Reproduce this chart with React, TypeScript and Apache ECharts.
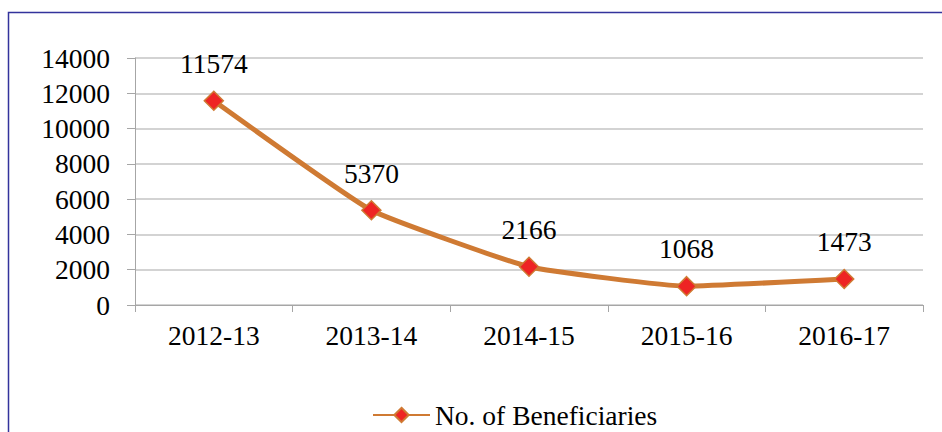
import React, { useEffect, useRef } from "react";
import * as echarts from "echarts";

const categories = ["2012-13", "2013-14", "2014-15", "2015-16", "2016-17"];
const beneficiaries = [11574, 5370, 2166, 1068, 1473];
const seriesName = "No. of Beneficiaries";
const yMin = 0;
const yMax = 14000;
const yInterval = 2000;

const FONT = "Liberation Serif";
const FS = 27.5;

export default function App() {
  const ref = useRef<HTMLDivElement>(null);
  useEffect(() => {
    if (!ref.current) return;
    const chart = echarts.init(ref.current, undefined, { renderer: "svg" });
    chart.setOption({
      animation: false,
      backgroundColor: "#ffffff",
      textStyle: { fontFamily: FONT },
      graphic: [
        {
          type: "rect",
          shape: { x: 8.5, y: 12.5, width: 960, height: 460 },
          style: { fill: "none", stroke: "#33339c", lineWidth: 1.5 },
          silent: true,
        },
      ],
      grid: { left: 135, right: 19, top: 58, bottom: 127, containLabel: false },
      legend: {
        left: 367,
        top: 396,
        itemWidth: 57,
        itemHeight: 18,
        itemGap: 6,
        textStyle: { fontFamily: FONT, fontSize: FS, color: "#000" },
        data: [{ name: seriesName }],
      },
      xAxis: {
        type: "category",
        data: categories,
        boundaryGap: true,
        axisLine: { lineStyle: { color: "#a6a6a6", width: 1 } },
        axisTick: { show: true, length: 7, alignWithLabel: false, lineStyle: { color: "#a6a6a6" } },
        axisLabel: { fontFamily: FONT, fontSize: FS, color: "#000", margin: 16 },
        splitLine: { show: false },
      },
      yAxis: {
        type: "value",
        min: yMin,
        max: yMax,
        interval: yInterval,
        axisLine: { show: true, lineStyle: { color: "#a6a6a6", width: 1 } },
        axisTick: { show: true, length: 8, lineStyle: { color: "#a6a6a6" } },
        axisLabel: {
          fontFamily: FONT,
          fontSize: FS,
          color: "#000",
          margin: 25,
          formatter: (v: number) => String(v),
        },
        splitLine: { show: true, lineStyle: { color: "#c4c4c4", width: 1.5 } },
      },
      series: [
        {
          name: seriesName,
          type: "line",
          data: beneficiaries,
          smooth: 0.12,
          symbol: "diamond",
          symbolSize: 19,
          lineStyle: { color: "#cf7a33", width: 5 },
          itemStyle: { color: "#ee2424", borderColor: "#cf7a33", borderWidth: 1.5 },
          label: {
            show: true,
            position: "top",
            distance: 13,
            fontFamily: FONT,
            fontSize: FS,
            color: "#000",
          },
        },
      ],
    });
    return () => chart.dispose();
  }, []);
  return (
    <div
      ref={ref}
      style={{ position: "fixed", left: 0, top: 0, width: 942, height: 432 }}
    />
  );
}
